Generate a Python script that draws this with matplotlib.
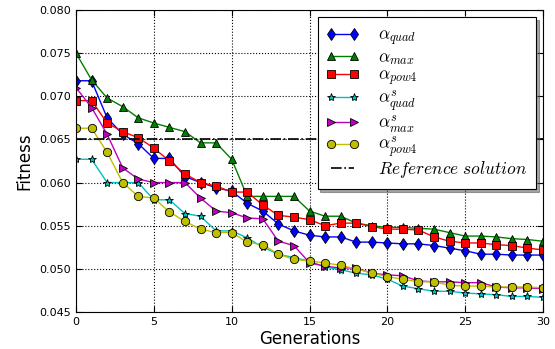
import matplotlib
matplotlib.use("Agg")
import matplotlib.pyplot as plt
import numpy as np

generations = list(range(31))

alpha_quad = [0.0718, 0.0718, 0.0675, 0.0656, 0.0645, 0.0628, 0.0628, 0.0607, 0.0600, 0.0594,
              0.0590, 0.0576, 0.0567, 0.0552, 0.0544, 0.0539, 0.0537, 0.0537, 0.0531, 0.0531,
              0.0530, 0.0529, 0.0529, 0.0527, 0.0524, 0.0521, 0.0517, 0.0517, 0.0516, 0.0516, 0.0516]
alpha_max = [0.0750, 0.0719, 0.0698, 0.0688, 0.0675, 0.0669, 0.0664, 0.0659, 0.0646, 0.0646,
             0.0627, 0.0584, 0.0584, 0.0584, 0.0584, 0.0567, 0.0561, 0.0561, 0.0553, 0.0550,
             0.0548, 0.0548, 0.0547, 0.0546, 0.0542, 0.0538, 0.0538, 0.0537, 0.0535, 0.0534, 0.0532]
alpha_pow4 = [0.0695, 0.0695, 0.0669, 0.0659, 0.0652, 0.0640, 0.0625, 0.0610, 0.0600, 0.0596,
              0.0589, 0.0589, 0.0574, 0.0562, 0.0560, 0.0557, 0.0550, 0.0553, 0.0553, 0.0549,
              0.0546, 0.0546, 0.0545, 0.0537, 0.0532, 0.0530, 0.0530, 0.0528, 0.0527, 0.0524, 0.0522]
alpha_quad_s = [0.0627, 0.0627, 0.0600, 0.0600, 0.0600, 0.0580, 0.0580, 0.0564, 0.0561, 0.0544,
                0.0544, 0.0536, 0.0525, 0.0517, 0.0513, 0.0509, 0.0502, 0.0499, 0.0495, 0.0493,
                0.0488, 0.0480, 0.0477, 0.0474, 0.0474, 0.0472, 0.0471, 0.0470, 0.0468, 0.0468, 0.0467]
alpha_max_s = [0.0710, 0.0687, 0.0656, 0.0617, 0.0604, 0.0600, 0.0600, 0.0600, 0.0582, 0.0567,
               0.0565, 0.0559, 0.0558, 0.0532, 0.0527, 0.0507, 0.0503, 0.0501, 0.0501, 0.0495,
               0.0493, 0.0492, 0.0486, 0.0485, 0.0485, 0.0484, 0.0484, 0.0479, 0.0478, 0.0478, 0.0477]
alpha_pow4_s = [0.0663, 0.0663, 0.0635, 0.0600, 0.0584, 0.0582, 0.0566, 0.0555, 0.0546, 0.0542,
                0.0542, 0.0531, 0.0528, 0.0517, 0.0511, 0.0509, 0.0507, 0.0504, 0.0500, 0.0495,
                0.0491, 0.0488, 0.0485, 0.0485, 0.0481, 0.0480, 0.0480, 0.0479, 0.0479, 0.0479, 0.0478]
reference_solution = 0.065

labels = [r'$\alpha_{quad}$', r'$\alpha_{max}$', r'$\alpha_{pow4}$',
          r'$\alpha^s_{quad}$', r'$\alpha^s_{max}$', r'$\alpha^s_{pow4}$']
series = [alpha_quad, alpha_max, alpha_pow4, alpha_quad_s, alpha_max_s, alpha_pow4_s]
colors = ['#0000ff', '#008000', '#ff0000', '#00bfbf', '#bf00bf', '#bfbf00']
markers = ['d', '^', 's', '*', '>', 'o']

plt.rcParams['mathtext.fontset'] = 'cm'

fig = plt.figure(figsize=(5.55, 3.49), dpi=100)
ax = fig.add_axes([76/555, 1-312/349, (543-76)/555, (312-10)/349])

for vals, lab, c, m in zip(series, labels, colors, markers):
    ax.plot(generations, vals, color=c, marker=m, markersize=6, markeredgecolor='black',
            markeredgewidth=0.6, linewidth=1.0, label=lab)

ax.axhline(reference_solution, color='black', linestyle='-.', linewidth=1.2,
           label=r'$Reference\ solution$')

ax.set_xlim(0, 30)
ax.set_ylim(0.045, 0.080)
ax.set_xticks(np.arange(0, 31, 5))
ax.set_yticks(np.arange(0.045, 0.0801, 0.005))
ax.set_yticklabels(['%.3f' % v for v in np.arange(0.045, 0.0801, 0.005)])
ax.tick_params(labelsize=8, direction='in', length=4, top=True, right=True)
ax.grid(True, color='black', linestyle=':', linewidth=0.8)
ax.set_xlabel('Generations', fontsize=12, labelpad=2)
ax.set_ylabel('Fitness', fontsize=12)

leg = ax.legend(loc='upper right', numpoints=2, shadow=True, fancybox=False,
                fontsize=12.5, handlelength=1.9, handletextpad=1.1, borderpad=0.5,
                labelspacing=0.0, borderaxespad=0.0,
                bbox_to_anchor=(0.985, 0.977))
leg.get_frame().set_edgecolor('black')
leg.get_frame().set_linewidth(0.8)

fig.savefig('out.png', dpi=100)
